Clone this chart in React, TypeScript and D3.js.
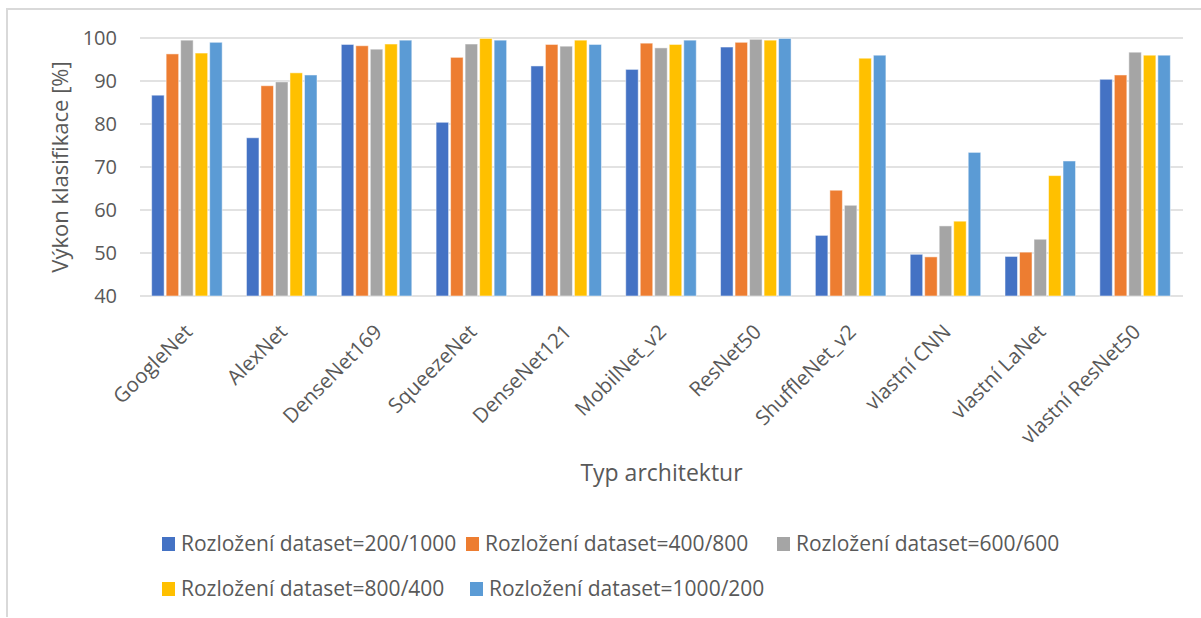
import React from "react";
import * as d3 from "d3";

const categories = [
  "GoogleNet",
  "AlexNet",
  "DenseNet169",
  "SqueezeNet",
  "DenseNet121",
  "MobilNet_v2",
  "ResNet50",
  "ShuffleNet_v2",
  "vlastní CNN",
  "vlastní LaNet",
  "vlastní ResNet50",
];

const seriesNames = [
  "Rozložení dataset=200/1000",
  "Rozložení dataset=400/800",
  "Rozložení dataset=600/600",
  "Rozložení dataset=800/400",
  "Rozložení dataset=1000/200",
];

const s200 = [86.7, 76.8, 98.5, 80.4, 93.5, 92.7, 97.9, 54.1, 49.7, 49.2, 90.4];
const s400 = [96.3, 88.9, 98.2, 95.5, 98.5, 98.8, 99.0, 64.6, 49.1, 50.2, 91.4];
const s600 = [99.5, 89.8, 97.4, 98.6, 98.1, 97.7, 99.7, 61.1, 56.3, 53.2, 96.7];
const s800 = [96.5, 91.9, 98.6, 99.9, 99.5, 98.5, 99.5, 95.3, 57.4, 68.0, 96.0];
const s1000 = [99.0, 91.4, 99.5, 99.5, 98.5, 99.5, 99.9, 96.0, 73.4, 71.4, 96.0];

const seriesValues = [s200, s400, s600, s800, s1000];
const colors = ["#4472C4", "#ED7D31", "#A5A5A5", "#FFC000", "#5B9BD5"];
const yTicks = [40, 50, 60, 70, 80, 90, 100];

const yTitle = "Výkon klasifikace [%]";
const xTitle = "Typ architektur";

const FONT = "'Open Sans', Lato, sans-serif";
const TEXT = "#595959";

export default function App() {
  const W = 1201;
  const H = 618;
  const left = 140;
  const right = 1183;
  const top = 38;
  const bottom = 296;

  const x0 = d3
    .scaleBand<string>()
    .domain(categories)
    .range([left, right])
    .paddingInner(0.235)
    .paddingOuter(0.1175);
  const x1 = d3
    .scaleBand<string>()
    .domain(seriesNames)
    .range([0, x0.bandwidth()]);
  const y = d3.scaleLinear().domain([40, 100]).range([bottom, top]);

  const legendRows = [
    [
      { i: 0, x: 162 },
      { i: 1, x: 466 },
      { i: 2, x: 777 },
    ],
    [
      { i: 3, x: 162 },
      { i: 4, x: 470 },
    ],
  ];
  const legendY = [544, 589];

  return (
    <svg
      width={W}
      height={H}
      style={{ position: "absolute", left: 0, top: 0, background: "#fff" }}
      fontFamily={FONT}
    >
      <rect x={0} y={0} width={W} height={H} fill="#fff" />
      {/* chart border (partially visible) */}
      <line x1={7} y1={9} x2={W} y2={9} stroke="#D9D9D9" strokeWidth={2} />
      <line x1={7} y1={8} x2={7} y2={617} stroke="#D9D9D9" strokeWidth={2} />

      {/* gridlines */}
      {yTicks.map((t) => (
        <line
          key={t}
          x1={left}
          x2={right}
          y1={y(t)}
          y2={y(t)}
          stroke="#D9D9D9"
          strokeWidth={1.5}
        />
      ))}

      {/* y tick labels */}
      {yTicks.map((t) => (
        <text
          key={"yl" + t}
          x={117}
          y={y(t)}
          dy="0.36em"
          textAnchor="end"
          fontSize={20}
          fill={TEXT}
        >
          {t}
        </text>
      ))}

      {/* bars */}
      {seriesValues.map((vals, si) =>
        vals.map((v, ci) => {
          const cx = (x0(categories[ci]) as number) + (x1(seriesNames[si]) as number);
          return (
            <rect
              key={si + "-" + ci}
              x={cx + 0.5}
              y={y(v)}
              width={x1.bandwidth() - 2}
              height={y(40) - y(v)}
              fill={colors[si]}
              stroke="#ffffff"
              strokeOpacity={0.5}
              strokeWidth={1}
            />
          );
        })
      )}

      {/* x labels */}
      {categories.map((c) => {
        const cx = (x0(c) as number) + x0.bandwidth() / 2;
        return (
          <text
            key={"xl" + c}
            transform={`translate(${cx - 4},${323}) rotate(-45)`}
            textAnchor="end"
            dy="0.7em"
            fontSize={20.5}
            fill={TEXT}
          >
            {c}
          </text>
        );
      })}

      {/* axis titles */}
      <text
        transform={`translate(68,${(top + bottom) / 2}) rotate(-90)`}
        textAnchor="middle"
        fontSize={22}
        fill={TEXT}
      >
        {yTitle}
      </text>
      <text
        x={(left + right) / 2}
        y={473}
        dy="0.35em"
        textAnchor="middle"
        fontSize={23}
        fill={TEXT}
      >
        {xTitle}
      </text>

      {/* legend */}
      {legendRows.map((row, ri) =>
        row.map(({ i, x }) => (
          <g key={"lg" + i}>
            <rect
              x={x}
              y={legendY[ri] - 7}
              width={13}
              height={14}
              fill={colors[i]}
            />
            <text
              x={x + 19}
              y={legendY[ri]}
              dy="0.35em"
              fontSize={21}
              fill={TEXT}
            >
              {seriesNames[i]}
            </text>
          </g>
        ))
      )}
    </svg>
  );
}
